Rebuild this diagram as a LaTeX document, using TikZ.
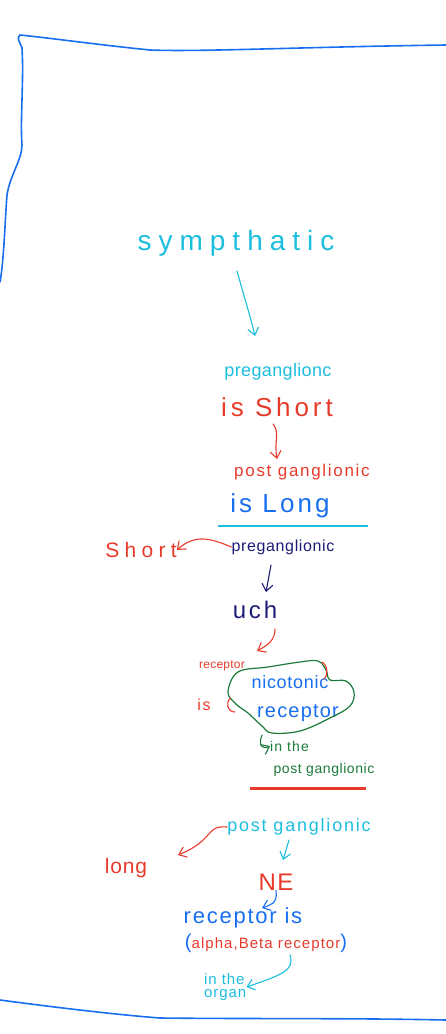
\documentclass[tikz,border=0pt]{standalone}
\usepackage{fontspec}
\setmainfont{Liberation Sans}
\usetikzlibrary{arrows.meta}
\definecolor{cy}{RGB}{28,190,222}
\definecolor{rd}{RGB}{232,58,42}
\definecolor{bl}{RGB}{24,110,240}
\definecolor{nv}{RGB}{28,28,120}
\definecolor{gr}{RGB}{28,122,58}
\newcommand{\fs}[2]{\fontsize{#1}{#1}\selectfont\addfontfeature{LetterSpace=#2}}
\tikzset{
  txt/.style={inner sep=0pt, anchor=center},
  arr/.style={line width=1.1pt, line cap=round, -{Straight Barb[length=7pt,width=11pt]}},
  frame/.style={draw=bl, line width=1.6pt, line cap=round},
}
\begin{document}
\begin{tikzpicture}[x=1pt,y=-1pt]
\useasboundingbox (0,0) rectangle (446,1034);
% frame
\draw[frame] (446,45) .. controls (300,47) and (200,52) .. (150,50) .. controls (100,45) and (50,38) .. (20,35) .. controls (16,38) and (20,42) .. (22,48) .. controls (24,80) and (20,120) .. (22,145) .. controls (22,160) and (10,175) .. (7,195) .. controls (5,220) and (4,260) .. (0,282);
\draw[frame] (0,1000) .. controls (60,1008) and (120,1015) .. (160,1018) .. controls (250,1019) and (350,1018) .. (446,1020);

% texts
\node[txt, text=cy, font=\fs{28}{25}] (sym) at (236,243) {sympthatic};
\node[txt, text=cy, font=\fs{18}{2}] (pre1) at (278,372) {preganglionc};
\node[txt, text=rd, font=\fs{26}{15}] (short1) at (277,407) {is Short};
\node[txt, text=rd, font=\fs{17}{10}] (post1) at (302,472) {post ganglionic};
\node[txt, text=bl, font=\fs{26}{12}] (long1) at (280,506) {is Long};
\node[txt, text=nv, font=\fs{16}{4}] (pre2) at (283,547) {preganglionic};
\node[txt, text=rd, font=\fs{21}{25}] (short2) at (141,550) {Short};
\node[txt, text=nv, font=\fs{24}{12}] (ach) at (255,610) {uch};
\node[txt, text=rd, font=\fs{12}{2}] (recA) at (222,666) {receptor};
\node[txt, text=rd, font=\fs{16}{10}] (isA) at (204,705) {is};
\node[txt, text=bl, font=\fs{18}{4}] (nic) at (290,682) {nicotonic};
\node[txt, text=bl, font=\fs{20}{6}] (recB) at (298,713) {receptor};
\node[txt, text=gr, font=\fs{14}{8}, anchor=west] (inthe) at (270,746) {in the};
\node[txt, text=gr, font=\fs{14}{4}] (postg) at (324,770) {post ganglionic};
\node[txt, text=cy, font=\fs{18}{10}] (post2) at (299,827) {post ganglionic};
\node[txt, text=rd, font=\fs{21}{4}] (long2) at (126,868) {long};
\node[txt, text=rd, font=\fs{24}{6}] (ne) at (276,882) {NE};
\node[txt, text=bl, font=\fs{22}{8}] (recis) at (243,918) {receptor is};
\node[txt, font=\fs{15}{7}] (ab) at (266,943) {\textcolor{bl}{\fontsize{20}{20}\selectfont(}\textcolor{rd}{alpha,Beta receptor}\textcolor{bl}{\fontsize{20}{20}\selectfont)}};
\node[txt, text=cy, font=\fs{15}{6}, align=left, anchor=west] (organ) at (204,987) {in the\\[-2pt]organ};

% blob
\draw[gr, line width=1.2pt] plot[smooth cycle, tension=0.6] coordinates {(228,692) (238,672) (268,667) (300,662) (318,661) (326,670) (330,680) (346,681) (354,692) (350,706) (330,718) (300,731) (272,733) (262,726) (248,713) (236,704)};
\draw[rd, line width=1.1pt] (231,698) .. controls (225,702) and (227,712) .. (235,712);
\draw[rd, line width=1.1pt] (322,662) .. controls (328,665) and (328,676) .. (324,679);

% separators
\draw[cy, line width=1.3pt] (218,526) -- (368,526);
\draw[rd, line width=3pt] (250,788) -- (366,788);

% connectors
\coordinate (s1) at (237,271);
\coordinate (s2) at (255,336);
\coordinate (a1) at (273,424);
\coordinate (a2) at (277,459);
\coordinate (n1) at (271,565);
\coordinate (n2) at (266,592);
\coordinate (r1) at (275,629);
\coordinate (r2) at (257,651);
\coordinate (g1) at (262,735);
\coordinate (c1) at (289,840);
\coordinate (c2) at (283,860);
\coordinate (b2) at (262,908);
\coordinate (o1) at (290,955);
\draw[arr, cy] (s1) .. controls (245,300) and (250,315) .. (s2);
\draw[arr, rd] (a1) .. controls (280,432) and (274,442) .. (a2);
\draw[arr, rd] (pre2.west) .. controls (210,538) and (195,534) .. (short2.east);
\draw[arr, nv] (n1) -- (n2);
\draw[arr, rd] (r1) .. controls (275,640) and (268,645) .. (r2);
\draw[arr, gr] (g1) .. controls (258,745) and (262,750) .. (inthe.west);
\draw[arr, rd] (post2.west) .. controls (205,825) and (215,840) .. (178,855);
\draw[arr, cy] (c1) -- (c2);
\draw[arr, bl] (ne.south) .. controls (278,904) and (270,905) .. (b2);
\draw[arr, cy] (o1) .. controls (295,970) and (282,975) .. (organ.east);
\end{tikzpicture}
\end{document}
